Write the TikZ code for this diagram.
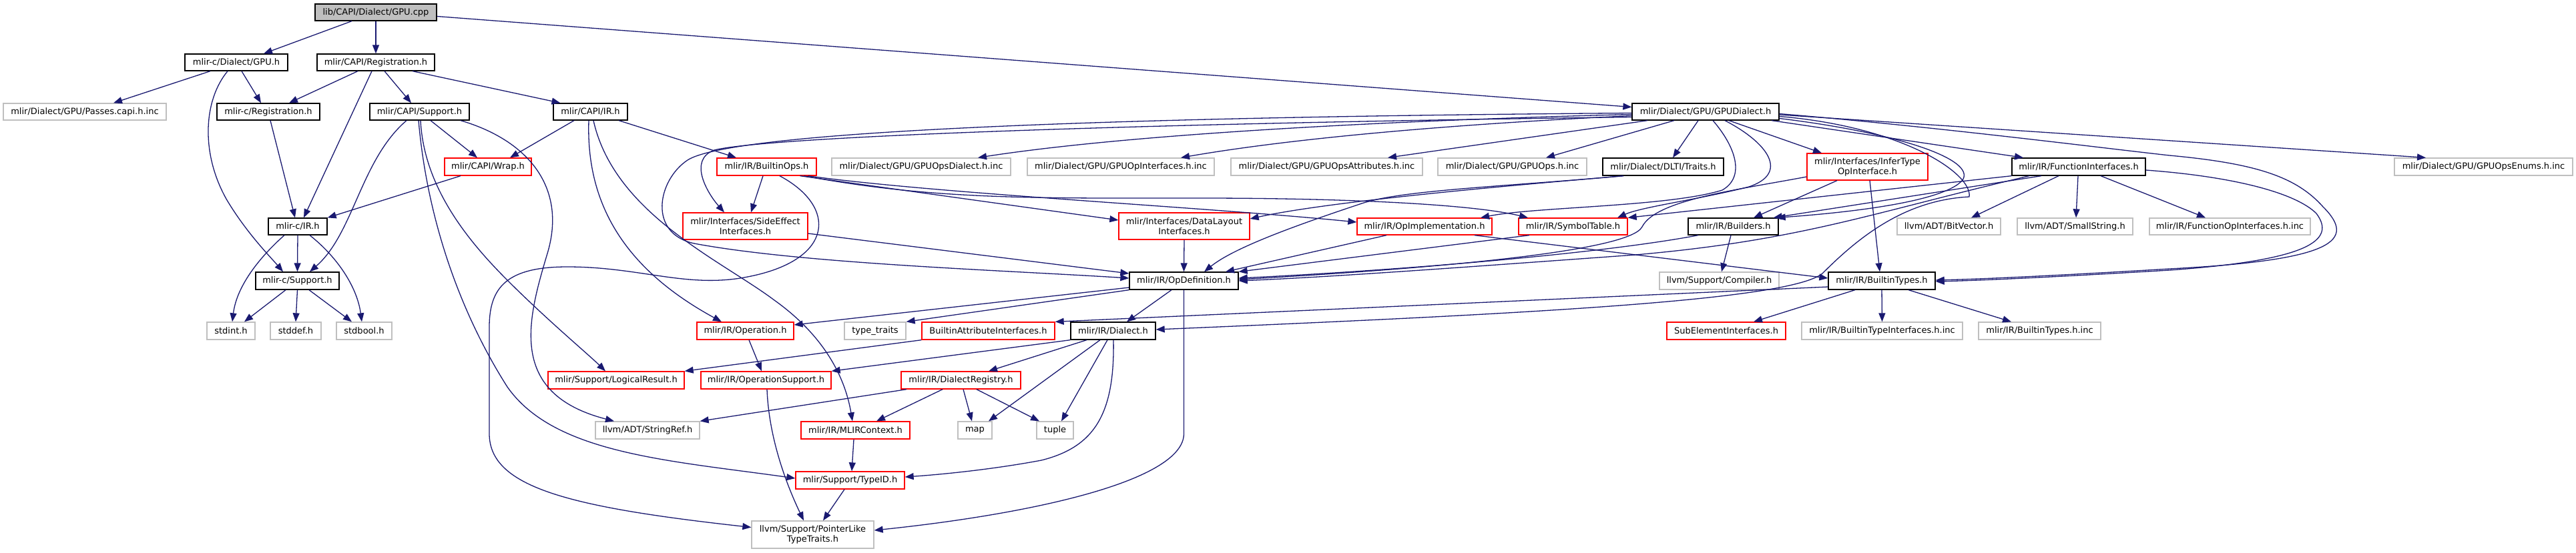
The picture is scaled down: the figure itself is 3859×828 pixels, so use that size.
\documentclass[tikz,border=0pt]{standalone}
\usepackage{fontspec}
\setmainfont{DejaVu Sans}
\usetikzlibrary{arrows.meta}
\definecolor{edgec}{HTML}{191970}
\definecolor{grayb}{HTML}{BFBFBF}
\definecolor{rootf}{HTML}{BFBFBF}
\begin{document}
\begin{tikzpicture}[x=1pt,y=-1pt,font=\fontsize{13pt}{15pt}\selectfont,
  box/.style={rectangle,inner sep=0pt,line width=1.3pt,fill=white,align=center,text=black},
  nb/.style={box,draw=black},
  ng/.style={box,draw=grayb},
  nr/.style={box,draw=red},
  nroot/.style={box,draw=black,fill=rootf},
  e/.style={draw=edgec,line width=1.3pt,-{Triangle[length=13pt,width=10pt]}}]
\useasboundingbox (0,0) rectangle (3859,828);
% nodes
\node[nroot,minimum width=182pt,minimum height=25pt] (lib) at (563,18.5) {lib/CAPI/Dialect/GPU.cpp};
\node[nb,minimum width=154pt,minimum height=25pt] (dgpu) at (354,93.5) {mlir-c/Dialect/GPU.h};
\node[nb,minimum width=176pt,minimum height=25pt] (capireg) at (563,93.5) {mlir/CAPI/Registration.h};
\node[ng,minimum width=244pt,minimum height=25pt] (passes) at (127,167.5) {mlir/Dialect/GPU/Passes.capi.h.inc};
\node[nb,minimum width=154pt,minimum height=25pt] (creg) at (402,167.5) {mlir-c/Registration.h};
\node[nb,minimum width=149pt,minimum height=25pt] (capisup) at (628.5,167.5) {mlir/CAPI/Support.h};
\node[nb,minimum width=111pt,minimum height=25pt] (capiir) at (884.5,167.5) {mlir/CAPI/IR.h};
\node[nb,minimum width=220pt,minimum height=25pt] (gpud) at (2555,167.5) {mlir/Dialect/GPU/GPUDialect.h};
\node[nr,minimum width=130pt,minimum height=26pt] (wrap) at (731,250) {mlir/CAPI/Wrap.h};
\node[nr,minimum width=149pt,minimum height=26pt] (bops) at (1148.5,250) {mlir/IR/BuiltinOps.h};
\node[ng,minimum width=268pt,minimum height=26pt] (opsdialect) at (1380,250) {mlir/Dialect/GPU/GPUOpsDialect.h.inc};
\node[ng,minimum width=280pt,minimum height=26pt] (opif) at (1679,250) {mlir/Dialect/GPU/GPUOpInterfaces.h.inc};
\node[ng,minimum width=287pt,minimum height=26pt] (opsattr) at (1987.5,250) {mlir/Dialect/GPU/GPUOpsAttributes.h.inc};
\node[ng,minimum width=223pt,minimum height=26pt] (gpuops) at (2265.5,250) {mlir/Dialect/GPU/GPUOps.h.inc};
\node[nb,minimum width=181pt,minimum height=26pt] (dlti) at (2491.5,250) {mlir/Dialect/DLTI/Traits.h};
\node[nr,minimum width=181pt,minimum height=40pt] (infer) at (2797.5,250) {mlir/Interfaces/InferType\\OpInterface.h};
\node[nb,minimum width=200pt,minimum height=26pt] (funcif) at (3114,250) {mlir/IR/FunctionInterfaces.h};
\node[ng,minimum width=267pt,minimum height=26pt] (enums) at (3720.5,250) {mlir/Dialect/GPU/GPUOpsEnums.h.inc};
\node[nb,minimum width=88pt,minimum height=25pt] (cir) at (446,339.5) {mlir-c/IR.h};
\node[nr,minimum width=187pt,minimum height=40pt] (sideeff) at (1116.5,339) {mlir/Interfaces/SideEffect\\Interfaces.h};
\node[nr,minimum width=196pt,minimum height=40pt] (datalayout) at (1774,339) {mlir/Interfaces/DataLayout\\Interfaces.h};
\node[nr,minimum width=202pt,minimum height=25pt] (opimpl) at (2134,339.5) {mlir/IR/OpImplementation.h};
\node[nr,minimum width=163pt,minimum height=25pt] (symtab) at (2356.5,339.5) {mlir/IR/SymbolTable.h};
\node[nb,minimum width=135pt,minimum height=25pt] (builders) at (2596.5,339.5) {mlir/IR/Builders.h};
\node[ng,minimum width=155pt,minimum height=25pt] (bitvec) at (2919.5,339.5) {llvm/ADT/BitVector.h};
\node[ng,minimum width=173pt,minimum height=25pt] (smallstr) at (3108.5,339.5) {llvm/ADT/SmallString.h};
\node[ng,minimum width=241pt,minimum height=25pt] (funcopinc) at (3340.5,339.5) {mlir/IR/FunctionOpInterfaces.h.inc};
\node[nb,minimum width=125pt,minimum height=26pt] (csup) at (445.5,421) {mlir-c/Support.h};
\node[nb,minimum width=163pt,minimum height=26pt] (opdef) at (1773.5,421) {mlir/IR/OpDefinition.h};
\node[ng,minimum width=179pt,minimum height=26pt] (compiler) at (2575.5,421) {llvm/Support/Compiler.h};
\node[nb,minimum width=160pt,minimum height=26pt] (btypes) at (2819,421) {mlir/IR/BuiltinTypes.h};
\node[ng,minimum width=72pt,minimum height=26pt] (stdint) at (346,496) {stdint.h};
\node[ng,minimum width=76pt,minimum height=26pt] (stddef) at (443,496) {stddef.h};
\node[ng,minimum width=83pt,minimum height=26pt] (stdbool) at (545.5,496) {stdbool.h};
\node[nr,minimum width=145pt,minimum height=26pt] (operation) at (1116.5,496) {mlir/IR/Operation.h};
\node[ng,minimum width=92pt,minimum height=26pt] (typetraits) at (1311,496) {type\_traits};
\node[nr,minimum width=199pt,minimum height=26pt] (battr) at (1480.5,496) {BuiltinAttributeInterfaces.h};
\node[nb,minimum width=127pt,minimum height=26pt] (dialect) at (1667.5,496) {mlir/IR/Dialect.h};
\node[nr,minimum width=178pt,minimum height=26pt] (subelem) at (2586,496) {SubElementInterfaces.h};
\node[ng,minimum width=241pt,minimum height=26pt] (btinc) at (2819.5,496) {mlir/IR/BuiltinTypeInterfaces.h.inc};
\node[ng,minimum width=183pt,minimum height=26pt] (btypesinc) at (3055.5,496) {mlir/IR/BuiltinTypes.h.inc};
\node[nr,minimum width=204pt,minimum height=26pt] (logres) at (923,570) {mlir/Support/LogicalResult.h};
\node[nr,minimum width=195pt,minimum height=26pt] (opsupport) at (1147.5,570) {mlir/IR/OperationSupport.h};
\node[nr,minimum width=179pt,minimum height=26pt] (dialreg) at (1439.5,570) {mlir/IR/DialectRegistry.h};
\node[ng,minimum width=156pt,minimum height=26pt] (stringref) at (970,645) {llvm/ADT/StringRef.h};
\node[nr,minimum width=163pt,minimum height=26pt] (mlirctx) at (1281.5,645) {mlir/IR/MLIRContext.h};
\node[ng,minimum width=51pt,minimum height=26pt] (map) at (1460.5,645) {map};
\node[ng,minimum width=55pt,minimum height=26pt] (tuple) at (1580.5,645) {tuple};
\node[nr,minimum width=163pt,minimum height=26pt] (typeid) at (1273.5,720) {mlir/Support/TypeID.h};
\node[ng,minimum width=183pt,minimum height=41pt] (ptrlike) at (1217.5,801.5) {llvm/Support/PointerLike\\TypeTraits.h};
% edges
\draw[e] ([xshift=-36pt]lib.south) -- ([xshift=41pt]dgpu.north);
\draw[e] (lib.south) -- (capireg.north);
\draw[e] ([yshift=-6pt]lib.east) -- ([yshift=7pt]gpud.west);
\draw[e] ([xshift=-39pt]dgpu.south) -- ([xshift=43pt]passes.north);
\draw[e] ([xshift=8pt]dgpu.south) -- ([xshift=-11pt]creg.north);
\draw[e] ([xshift=-13pt]dgpu.south) .. controls (305,150) and (300,230) .. (340,300) .. controls (370,350) and (405,385) .. ([xshift=-21.5pt]csup.north);
\draw[e] ([xshift=-27pt]capireg.south) -- ([xshift=31pt]creg.north);
\draw[e] ([xshift=-6pt]capireg.south) -- ([xshift=9pt]cir.north);
\draw[e] ([xshift=13pt]capireg.south) -- ([xshift=-12.5pt]capisup.north);
\draw[e] ([xshift=55pt]capireg.south) -- ([xshift=-45pt]capiir.north);
\draw[e] ([xshift=3pt]creg.south) -- ([xshift=-4pt]cir.north);
\draw[e] ([xshift=-20pt]cir.south) .. controls (395,380) and (355,425) .. ([xshift=2pt]stdint.north);
\draw[e] (cir.south) -- (csup.north);
\draw[e] ([xshift=18pt]cir.south) .. controls (505,385) and (535,430) .. ([xshift=-3.5pt]stdbool.north);
\draw[e] ([xshift=-17.5pt]csup.south) -- ([xshift=20pt]stdint.north);
\draw[e] (csup.south) -- (stddef.north);
\draw[e] ([xshift=17.5pt]csup.south) -- ([xshift=-18.5pt]stdbool.north);
\draw[e] ([xshift=-19.5pt]capisup.south) .. controls (540,240) and (530,350) .. ([xshift=18.5pt]csup.north);
\draw[e] ([xshift=16.5pt]capisup.south) -- ([xshift=-16pt]wrap.north);
\draw[e] ([xshift=1.5pt]capisup.south) .. controls (635,280) and (700,360) .. (760,420) .. controls (820,480) and (880,530) .. ([xshift=-16pt]logres.north);
\draw[e] ([xshift=-1.5pt]capisup.south) .. controls (640,330) and (690,470) .. (760,580) .. controls (830,680) and (1000,690) .. ([yshift=3pt]typeid.west);
\draw[e] ([xshift=61.5pt]capisup.south) .. controls (790,210) and (850,280) .. (820,380) .. controls (790,480) and (760,590) .. ([xshift=-50pt]stringref.north);
\draw[e] ([xshift=-41pt]wrap.south) -- (cir.north east);
\draw[e] ([xshift=-24.5pt]capiir.south) -- ([xshift=33pt]wrap.north);
\draw[e] ([xshift=42.5pt]capiir.south) -- ([xshift=-45.5pt]bops.north);
\draw[e] ([xshift=-2.5pt]capiir.south) .. controls (878,300) and (930,400) .. ([xshift=-35.5pt]operation.north);
\draw[e] ([xshift=4.5pt]capiir.south) .. controls (920,320) and (1080,390) .. (1160,450) .. controls (1230,500) and (1265,560) .. ([xshift=-4.5pt]mlirctx.north);
\draw[e] ([xshift=-5.5pt]bops.south) -- ([xshift=8.5pt]sideeff.north);
\draw[e] ([xshift=19.5pt]bops.south) .. controls (1255,310) and (1250,390) .. (1120,415) .. controls (1030,433) and (960,400) .. (850,400) .. controls (760,400) and (733,430) .. (733,490) -- (733,650) .. controls (733,730) and (850,760) .. ([yshift=11pt]ptrlike.west);
\draw[e] ([xshift=50pt]bops.south) -- ([yshift=9pt]datalayout.west);
\draw[e] ([xshift=56pt]bops.south) .. controls (1400,300) and (1550,297) .. (1800,297) .. controls (2000,297) and (2200,305) .. ([xshift=-67.5pt]symtab.north);
\draw[e] ([xshift=62pt]bops.south) .. controls (1400,290) and (1800,310) .. ([yshift=6.5pt]opimpl.west);
\draw[e] ([yshift=-8pt]gpud.west) .. controls (1700,185) and (1150,205) .. (1070,225) .. controls (1030,240) and (1060,290) .. ([xshift=-31.5pt]sideeff.north);
\draw[e] ([yshift=-2pt]gpud.west) .. controls (1700,175) and (1100,195) .. (1030,240) .. controls (985,270) and (970,350) .. (1040,365) .. controls (1200,395) and (1500,405) .. ([yshift=4pt]opdef.west);
\draw[e] ([yshift=-11pt]sideeff.east) -- ([yshift=11pt]opdef.west);
\draw[e] (datalayout.south) -- (opdef.north);
\draw[e] ([yshift=-10pt]opdef.west) -- ([yshift=9pt]operation.east);
\draw[e] (opdef.south west) -- (typetraits.north east);
\draw[e] ([xshift=-18.5pt]opdef.south) -- ([xshift=20.5pt]dialect.north);
\draw[e] (opdef.south) -- (1773.5,650) .. controls (1773.5,720) and (1550,770) .. ([yshift=6.5pt]ptrlike.east);
\draw[e] ([xshift=5.5pt]operation.south) -- ([xshift=-6.5pt]opsupport.north);
\draw[e] ([xshift=1.5pt]opsupport.south) .. controls (1152,660) and (1180,730) .. ([xshift=-13.5pt]ptrlike.north);
\draw[e] (dialect.south west) -- (opsupport.north east);
\draw[e] ([xshift=-39.5pt]dialect.south) -- ([xshift=41.5pt]dialreg.north);
\draw[e] ([xshift=-19.5pt]dialect.south) -- ([xshift=20.5pt]map.north);
\draw[e] ([xshift=-8.5pt]dialect.south) -- ([xshift=9.5pt]tuple.north);
\draw[e] ([xshift=0.5pt]dialect.south) .. controls (1670,620) and (1640,670) .. (1560,690) .. controls (1480,705) and (1400,712) .. ([yshift=5pt]typeid.east);
\draw[e] ([xshift=-81.5pt]dialreg.south) -- (stringref.north east);
\draw[e] ([xshift=-27.5pt]dialreg.south) -- ([xshift=31.5pt]mlirctx.north);
\draw[e] ([xshift=3.5pt]dialreg.south) -- ([xshift=-4.5pt]map.north);
\draw[e] ([xshift=23.5pt]dialreg.south) -- ([xshift=-23.5pt]tuple.north);
\draw[e] ([xshift=-2.5pt]mlirctx.south) -- ([xshift=2.5pt]typeid.north);
\draw[e] ([xshift=-8.5pt]typeid.south) -- ([xshift=15.5pt]ptrlike.north);
\draw[e] (battr.south west) -- (logres.north east);
\draw[e] ([yshift=-9pt]btypes.west) -- (battr.north east);
\draw[e] ([xshift=-40pt]btypes.south) -- ([xshift=41pt]subelem.north);
\draw[e] (btypes.south) -- (btinc.north);
\draw[e] ([xshift=40pt]btypes.south) -- ([xshift=-42.5pt]btypesinc.north);
\draw[e] ([yshift=-4pt]gpud.west) .. controls (2100,180) and (1700,200) .. ([xshift=85pt]opsdialect.north);
\draw[e] ([yshift=-6pt]gpud.west) .. controls (2200,185) and (1950,205) .. ([xshift=90pt]opif.north);
\draw[e] ([xshift=-87pt]gpud.south) -- ([xshift=91.5pt]opsattr.north);
\draw[e] ([xshift=-47pt]gpud.south) -- ([xshift=50.5pt]gpuops.north);
\draw[e] ([xshift=-11pt]gpud.south) -- ([xshift=14.5pt]dlti.north);
\draw[e] ([xshift=35pt]gpud.south) -- ([xshift=-68.5pt]infer.north);
\draw[e] ([xshift=99pt]gpud.south) -- ([xshift=-83pt]funcif.north);
\draw[e] ([yshift=-4.5pt]gpud.east) -- ([xshift=-86.5pt]enums.north);
\draw[e] ([yshift=-3pt]gpud.east) .. controls (2900,190) and (3150,222) .. (3250,233) .. controls (3380,245) and (3440,265) .. (3480,310) .. controls (3530,360) and (3500,390) .. (3250,403) .. controls (3100,412) and (2980,418) .. ([yshift=1pt]btypes.east);
\draw[e] ([yshift=-10pt]gpud.east) .. controls (2850,200) and (2960,240) .. (2940,270) .. controls (2910,305) and (2750,320) .. ([xshift=-3pt]builders.north east);
\draw[e] ([xshift=11pt]gpud.south) .. controls (2600,220) and (2615,265) .. (2580,285) .. controls (2500,310) and (2300,310) .. ([xshift=84pt]opimpl.north);
\draw[e] ([xshift=29pt]gpud.south) .. controls (2650,215) and (2680,260) .. (2620,280) .. controls (2540,300) and (2460,310) .. ([xshift=66.5pt]symtab.north);
\draw[e] ([yshift=-7pt]gpud.east) .. controls (2850,190) and (2955,260) .. (2950,295) .. controls (2850,300) and (2780,360) .. (2730,410) .. controls (2680,450) and (2300,470) .. ([yshift=2pt]dialect.east);
\draw[e] ([xshift=-59.5pt]dlti.south) .. controls (2300,275) and (2000,300) .. ([yshift=11pt]datalayout.east);
\draw[e] ([xshift=-59.5pt]dlti.south) .. controls (2250,280) and (2100,285) .. (2040,305) .. controls (1950,335) and (1850,370) .. ([xshift=30.5pt]opdef.north);
\draw[e] ([xshift=-57pt]opimpl.south) -- ([xshift=62.5pt]opdef.north);
\draw[e] ([xshift=75pt]opimpl.south) -- ([yshift=4pt]btypes.west);
\draw[e] ([xshift=-65.5pt]symtab.south) -- (opdef.north east);
\draw[e] ([xshift=-52.5pt]builders.south) .. controls (2400,380) and (2100,405) .. ([yshift=4pt]opdef.east);
\draw[e] ([xshift=-3.5pt]builders.south) -- ([xshift=3.5pt]compiler.north);
\draw[e] ([xshift=-45.5pt]infer.south) -- ([xshift=30.5pt]builders.north);
\draw[e] ([xshift=3.5pt]infer.south) -- ([xshift=-3pt]btypes.north);
\draw[e] ([yshift=-15pt]infer.west) .. controls (2600,285) and (2480,300) .. (2460,340) .. controls (2440,380) and (2100,405) .. ([yshift=2pt]opdef.east);
\draw[e] (funcif.south west) -- (symtab.north east);
\draw[e] ([xshift=-56pt]funcif.south) -- ([xshift=-8pt]builders.north east);
\draw[e] ([xshift=-74pt]funcif.south) .. controls (2800,320) and (2700,360) .. (2450,382) .. controls (2200,400) and (2000,415) .. (opdef.east);
\draw[e] ([xshift=-30pt]funcif.south) -- ([xshift=33.5pt]bitvec.north);
\draw[e] ([xshift=-1pt]funcif.south) -- ([xshift=1.5pt]smallstr.north);
\draw[e] ([xshift=33pt]funcif.south) -- ([xshift=-36.5pt]funcopinc.north);
\draw[e] ([yshift=-5pt]funcif.east) .. controls (3350,265) and (3440,290) .. (3470,320) .. controls (3500,360) and (3460,390) .. (3250,405) .. controls (3100,414) and (2980,420) .. ([yshift=-1pt]btypes.east);
\end{tikzpicture}
\end{document}
